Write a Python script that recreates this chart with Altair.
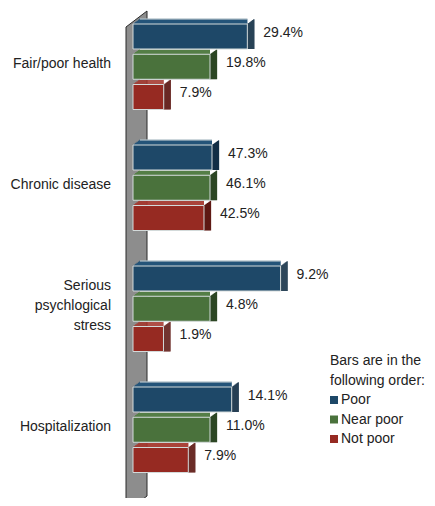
import altair as alt
import pandas as pd

# ---------------- data ----------------
categories = ["Fair/poor health", "Chronic disease", "Serious psychlogical stress", "Hospitalization"]
category_lines = ["Fair/poor health", "Chronic disease", "Serious\npsychlogical\nstress", "Hospitalization"]
series = ["Poor", "Near poor", "Not poor"]
poor = [29.4, 47.3, 9.2, 14.1]
near_poor = [19.8, 46.1, 4.8, 11.0]
not_poor = [7.9, 42.5, 1.9, 7.9]

rows = []
for ci, c in enumerate(categories):
    for si, (s, vals) in enumerate(zip(series, [poor, near_poor, not_poor])):
        rows.append({"category": c, "cat_idx": ci, "series": s, "ser_idx": si, "value": vals[ci]})
df = pd.DataFrame(rows)
cat_df = pd.DataFrame({"category": categories, "text": category_lines, "cat_idx": list(range(len(categories)))})

# ---------------- styles / layout ----------------
FONT = "Liberation Sans"
FRONT = {"Poor": "#1e4868", "Near poor": "#4a723c", "Not poor": "#962a22"}
TOP = {"Poor": "#25557a", "Near poor": "#557f46", "Not poor": "#a4372e"}
SIDE = {"Poor": "#132f45", "Near poor": "#2d4725", "Not poor": "#5e1914"}
EDGE = "#d3dada"

W, H = 419, 490
X0_PX, PX_PER = 125.0, 77.0        # bar origin and pixels per unit of relative length
Y0_PX, ROW_PX = 28.5, 30.25        # first row center and row pitch
HB = 12.5 / ROW_PX                 # half bar height in row units
DX, DY = 7, 5                      # 3-D depth in pixels
LINE_H = 20                        # category label line height


def px2x(px):
    return (px - X0_PX) / PX_PER


def py2y(py):
    return (py - Y0_PX) / ROW_PX


XS = alt.Scale(domain=[px2x(0), px2x(W)], nice=False, zero=False)
YS = alt.Scale(domain=[py2y(0), py2y(H)], nice=False, zero=False, reverse=True)


def cexpr(pal):
    return ("datum.series == 'Poor' ? '%s' : datum.series == 'Near poor' ? '%s' : '%s'"
            % (pal["Poor"], pal["Near poor"], pal["Not poor"]))


base = (
    alt.Chart(df)
    .transform_calculate(np_val="datum.series == 'Near poor' ? datum.value : 0")
    .transform_joinaggregate(np_ref="sum(np_val)", groupby=["category"])
    .transform_calculate(rel="datum.value / datum.np_ref")
    .transform_calculate(row="datum.cat_idx * 4 + datum.ser_idx")
    .transform_calculate(ytop="datum.row - %f" % HB)
    .transform_calculate(ybot="datum.row + %f" % HB)
    .transform_calculate(zero="0")
    .transform_calculate(label="format(datum.value, '.1f') + '%'")
    .transform_calculate(topc=cexpr(TOP))
    .transform_calculate(sidec=cexpr(SIDE))
)

X = alt.X("zero:Q", scale=XS, axis=None)
X2 = alt.X2("rel:Q")
YT = alt.Y("ytop:Q", scale=YS, axis=None)
YB = alt.Y2("ybot:Q")

# wall (decorative back plane)
wall_df = pd.DataFrame({
    "wx": [px2x(118), px2x(139)],
    "wy": [py2y(19), py2y(3)],
    "wy2": [py2y(504), py2y(488)],
})
wall = alt.Chart(wall_df).mark_area(orient="vertical", fill="#8d8d8d", stroke="#2b2b2b", strokeWidth=1).encode(
    x=alt.X("wx:Q", scale=XS, axis=None),
    y=alt.Y("wy:Q", scale=YS, axis=None),
    y2="wy2:Q",
)

tops = []
for k in range(DY):
    tops.append(
        base.mark_rule(strokeWidth=1.3, xOffset=(k + 0.5) * DX / DY, yOffset=-(k + 0.5)).encode(
            x=X, x2=X2, y=YT, stroke=alt.Stroke("topc:N", scale=None)
        )
    )
tops.append(
    base.mark_rule(strokeWidth=1, stroke=EDGE, xOffset=DX, yOffset=-DY).encode(x=X, x2=X2, y=YT)
)

sides = []
for j in range(DX):
    sides.append(
        base.mark_rule(strokeWidth=1.3, xOffset=j + 0.5, yOffset=-(j + 0.5) * DY / DX).encode(
            x=alt.X("rel:Q", scale=XS, axis=None), y=YT, y2=YB, stroke=alt.Stroke("sidec:N", scale=None)
        )
    )

front = base.mark_rect(stroke=EDGE, strokeWidth=1).encode(
    x=X, x2=X2, y=YT, y2=YB,
    color=alt.Color(
        "series:N",
        scale=alt.Scale(domain=series, range=[FRONT[s] for s in series]),
        legend=alt.Legend(
            title=["Bars are in the", "following order:"],
            orient="none", legendX=322, legendY=346,
            symbolType="square", symbolSize=64, symbolStrokeWidth=0, symbolOffset=-3,
            labelFont=FONT, labelFontSize=14, labelColor="#222",
            titleFont=FONT, titleFontSize=14, titleFontWeight="normal", titleColor="#222",
            titleLineHeight=20, rowPadding=5.5, titlePadding=5, labelOffset=0, padding=0,
        ),
    ),
)

values = base.mark_text(align="left", baseline="middle", dx=16, dy=-4, fontSize=14, font=FONT, color="#222").encode(
    x=alt.X("rel:Q", scale=XS, axis=None),
    y=alt.Y("row:Q", scale=YS, axis=None),
    text="label:N",
)

catlabels = (
    alt.Chart(cat_df)
    .transform_calculate(nlines="split(datum.text, '\\n').length")
    .transform_calculate(crow="datum.cat_idx * 4 + 1 - (datum.nlines - 1) * %f" % (LINE_H / 2 / ROW_PX))
    .mark_text(align="right", baseline="middle", dy=-3, fontSize=14, font=FONT, color="#222", lineBreak="\n", lineHeight=LINE_H)
    .encode(
        x=alt.datum(px2x(103), scale=XS, axis=None),
        y=alt.Y("crow:Q", scale=YS, axis=None),
        text="text:N",
    )
)

chart = (
    alt.layer(wall, *tops, *sides, front, values, catlabels)
    .properties(width=W, height=H, padding=0, autosize=alt.AutoSizeParams(type="none"), background="white")
    .configure_view(stroke=None)
)

chart.save("out.html", embed_options={"renderer": "svg", "actions": False})
